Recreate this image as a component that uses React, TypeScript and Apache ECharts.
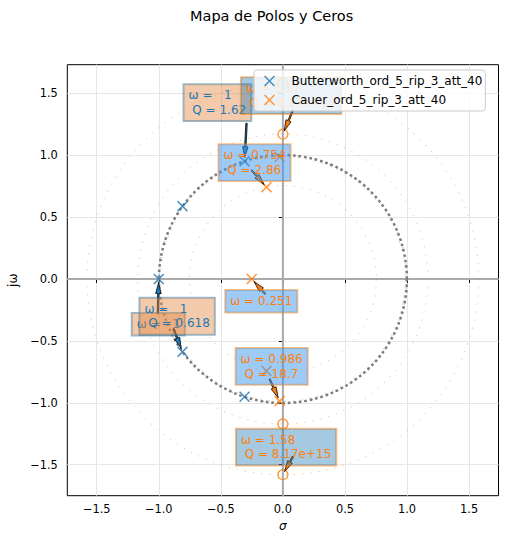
import React, { useEffect, useRef } from "react";
import * as echarts from "echarts";

// ---------- data ----------
const tickValues = [-1.5, -1, -0.5, 0, 0.5, 1, 1.5];
const xRange = [-1.737, 1.737];
const yRange = [-1.75, 1.731];

const butterName = "Butterworth_ord_5_rip_3_att_40";
const cauerName = "Cauer_ord_5_rip_3_att_40";

const butterPoles = [
  [-0.309, 0.951],
  [-0.809, 0.588],
  [-1.0, 0.0],
  [-0.809, -0.588],
  [-0.309, -0.951],
];
const cauerPoles = [
  [-0.132, 0.742],
  [-0.0264, 0.9856],
  [-0.251, 0.0],
  [-0.0264, -0.9856],
  [-0.132, -0.742],
];
const cauerZeros = [
  [0, 1.17],
  [0, 1.58],
  [0, -1.17],
  [0, -1.58],
];

const unitRadius = [1];
const butterRadii = [1];
const cauerRadii = [0.754, 0.986, 1.17, 1.58];
const origin = [[0, 0]];

const butterNoteTargets = [
  [-1.0, 0.0],
  [-0.309, 0.951],
  [-0.809, -0.588],
];
const butterNoteLabels = ["ω =   1", "ω =   1\n Q = 1.62", "ω =   1\n Q = 0.618"];

const cauerNoteTargets = [
  [0, 1.17],
  [-0.132, 0.742],
  [-0.251, 0.0],
  [-0.0264, -0.9856],
  [0, -1.58],
];
const cauerNoteLabels = [
  "ω = 1.17\n Q = 8.17e+15",
  "ω = 0.754\n Q = 2.86",
  "ω = 0.251",
  "ω = 0.986\n Q = 18.7",
  "ω = 1.58\n Q = 8.17e+15",
];

// ---------- layout / style (pixel offsets from the target point) ----------
const butterNoteLayout = [
  { box: [-27, 34], from: [-1, 35] },
  { box: [-61, -77], from: [2, -38] },
  { box: [-43, -54], from: [-9, -23] },
];
const cauerNoteLayout = [
  { box: [-42, -57], from: [10, -24], zero: true },
  { box: [-48, -43], from: [-15, -17], zero: false },
  { box: [-26.5, 11], from: [13.5, 15], zero: false },
  { box: [-44, -53], from: [-10, -22], zero: false },
  { box: [-47, -46], from: [10, -18], zero: true },
];

const C0 = "#1f77b4";
const C1 = "#ff7f0e";
const FONT = '"DejaVu Sans", sans-serif';
const X_PATH =
  "path://M0,10L10,0L50,40L90,0L100,10L60,50L100,90L90,100L50,60L10,100L0,90L40,50Z";

function fmt(v: number) {
  return v.toFixed(1).replace("-", "\u2212");
}

function circleRender(stroke: string, lineWidth: number, lineDash: number[]) {
  return (params: any, api: any) => {
    const c = api.coord([0, 0]);
    const r = api.value(0);
    const e = api.coord([r, 0]);
    const f = api.coord([0, r]);
    const rad = ((e[0] - c[0]) + (c[1] - f[1])) / 2;
    return {
      type: "circle",
      shape: { cx: c[0], cy: c[1], r: rad },
      style: { fill: "none", stroke, lineWidth, lineDash },
    };
  };
}

function noteRender(
  labels: string[],
  layouts: any[],
  textColor: string,
  headColor: string,
  boxFill: (i: number) => string,
  boxStroke: string
) {
  return (params: any, api: any) => {
    const i = params.dataIndex;
    const p = api.coord([api.value(0), api.value(1)]);
    const L = layouts[i];
    const sx = p[0] + L.from[0];
    const sy = p[1] + L.from[1];
    let dx = p[0] - sx;
    let dy = p[1] - sy;
    const len = Math.hypot(dx, dy);
    dx /= len;
    dy /= len;
    const tx = p[0] - dx * 3.5;
    const ty = p[1] - dy * 3.5;
    const hl = 11;
    const hw = 2.7;
    const sw = 0.7;
    const hx = tx - dx * hl;
    const hy = ty - dy * hl;
    const nx = -dy;
    const ny = dx;
    const points = [
      [sx + nx * sw, sy + ny * sw],
      [hx + nx * sw, hy + ny * sw],
      [hx + nx * hw, hy + ny * hw],
      [tx, ty],
      [hx - nx * hw, hy - ny * hw],
      [hx - nx * sw, hy - ny * sw],
      [sx - nx * sw, sy - ny * sw],
    ];
    return {
      type: "group",
      children: [
        {
          type: "polygon",
          shape: { points },
          style: { fill: headColor, stroke: "#000", lineWidth: 0.8 },
        },
        {
          type: "text",
          x: p[0] + L.box[0],
          y: p[1] + L.box[1],
          style: {
            text: labels[i],
            fill: textColor,
            fontSize: 12,
            fontFamily: FONT,
            lineHeight: 14.4,
            align: "left",
            verticalAlign: "top",
            backgroundColor: boxFill(i),
            borderColor: boxStroke,
            borderWidth: 1,
            padding: [4, 5, 4, 5],
          },
        },
      ],
    };
  };
}

export default function App() {
  const ref = useRef<HTMLDivElement>(null);

  useEffect(() => {
    if (!ref.current) return;
    const chart = echarts.init(ref.current, null, { renderer: "svg" });

    const axisCommon = {
      type: "value",
      axisLine: { show: false },
      axisTick: {
        show: true,
        length: 4,
        lineStyle: { color: "#000", width: 1 },
        customValues: tickValues,
      },
      splitLine: { show: true, lineStyle: { color: "#e6e6e6", width: 1 } },
      nameTextStyle: { fontSize: 12, fontFamily: FONT, color: "#000" },
    };

    chart.setOption({
      animation: false,
      backgroundColor: "#fff",
      title: {
        text: "Mapa de Polos y Ceros",
        left: 185,
        top: 3,
        textStyle: { fontSize: 14.5, fontWeight: "normal", color: "#000", fontFamily: FONT },
      },
      grid: {
        left: 67.3,
        right: 7.5,
        top: 64.7,
        bottom: 45.3,
        show: true,
        borderColor: "#000",
        borderWidth: 1,
        backgroundColor: "transparent",
        outerBoundsMode: "none",
      },
      legend: {
        data: [butterName, cauerName],
        orient: "vertical",
        left: 254,
        top: 70,
        itemWidth: 22,
        itemHeight: 11,
        itemGap: 5,
        padding: [4, 3, 4, 10],
        backgroundColor: "rgba(255,255,255,0.8)",
        borderColor: "#cccccc",
        borderWidth: 1,
        borderRadius: 3,
        icon: X_PATH,
        textStyle: { fontSize: 12, fontFamily: FONT, color: "#000", lineHeight: 14, padding: [0, 0, 0, 6] },
        z: 10,
      },
      xAxis: {
        ...axisCommon,
        min: xRange[0],
        max: xRange[1],
        name: "σ",
        nameLocation: "middle",
        nameGap: 24,
        nameTextStyle: { fontSize: 12, fontFamily: FONT, color: "#000", fontStyle: "italic" },
        axisLabel: {
          customValues: tickValues,
          formatter: (v: number) => fmt(v),
          fontSize: 11.4,
          fontFamily: FONT,
          color: "#000",
          margin: 7.5,
        },
      },
      yAxis: {
        ...axisCommon,
        min: yRange[0],
        max: yRange[1],
        name: "jω",
        nameLocation: "middle",
        nameGap: 47,
        nameRotate: 90,
        nameTextStyle: { fontSize: 12, fontFamily: FONT, color: "#000" },
        axisLabel: {
          customValues: tickValues,
          formatter: (v: number) => fmt(v),
          fontSize: 11.4,
          fontFamily: FONT,
          color: "#000",
          margin: 9.5,
        },
      },
      series: [
        {
          name: "zeroLines",
          type: "custom",
          z: 1,
          silent: true,
          data: origin,
          renderItem: (params: any, api: any) => {
            const cs = params.coordSys;
            const c = api.coord([api.value(0), api.value(1)]);
            return {
              type: "group",
              children: [
                {
                  type: "line",
                  shape: { x1: c[0], y1: cs.y, x2: c[0], y2: cs.y + cs.height },
                  style: { stroke: "#aaaaaa", lineWidth: 2 },
                },
                {
                  type: "line",
                  shape: { x1: cs.x, y1: c[1], x2: cs.x + cs.width, y2: c[1] },
                  style: { stroke: "#aaaaaa", lineWidth: 2 },
                },
              ],
            };
          },
        },
        {
          name: "butterCircles",
          type: "custom",
          z: 2,
          silent: true,
          data: butterRadii.map((r) => [r, 0]),
          renderItem: circleRender("rgba(31,119,180,0.6)", 1, [1.2, 7]),
        },
        {
          name: "unitCircle",
          type: "custom",
          z: 2,
          silent: true,
          data: unitRadius.map((r) => [r, 0]),
          renderItem: circleRender("#7a7a7a", 2.5, [2.5, 3]),
        },
        {
          name: butterName,
          type: "scatter",
          z: 3,
          symbol: X_PATH,
          symbolSize: 11,
          itemStyle: { color: C0 },
          data: butterPoles,
        },
        {
          name: "cauerCircles",
          type: "custom",
          z: 2,
          silent: true,
          data: cauerRadii.map((r) => [r, 0]),
          renderItem: circleRender("rgba(255,127,14,0.55)", 1, [1.2, 7]),
        },
        {
          name: cauerName,
          type: "scatter",
          z: 3,
          symbol: X_PATH,
          symbolSize: 11,
          itemStyle: { color: C1 },
          data: cauerPoles,
        },
        {
          name: "cauerZeros",
          type: "scatter",
          z: 3,
          symbol: "circle",
          symbolSize: 10,
          itemStyle: { color: "rgba(0,0,0,0)", borderColor: C1, borderWidth: 1.4 },
          data: cauerZeros,
        },
        {
          name: "butterNotes",
          type: "custom",
          z: 4,
          silent: true,
          data: butterNoteTargets,
          renderItem: noteRender(
            butterNoteLabels,
            butterNoteLayout,
            C0,
            C0,
            () => "rgba(228,140,71,0.45)",
            "rgba(31,119,180,0.5)"
          ),
        },
        {
          name: "cauerNotes",
          type: "custom",
          z: 5,
          silent: true,
          data: cauerNoteTargets,
          renderItem: noteRender(
            cauerNoteLabels,
            cauerNoteLayout,
            C1,
            C1,
            (i: number) =>
              cauerNoteLayout[i].zero ? "rgba(31,119,180,0.4)" : "rgba(61,151,237,0.5)",
            "rgba(255,127,14,0.5)"
          ),
        },
      ],
    });

    return () => chart.dispose();
  }, []);

  return (
    <div
      ref={ref}
      style={{ position: "absolute", left: 0, top: 0, width: 506, height: 541 }}
    />
  );
}
